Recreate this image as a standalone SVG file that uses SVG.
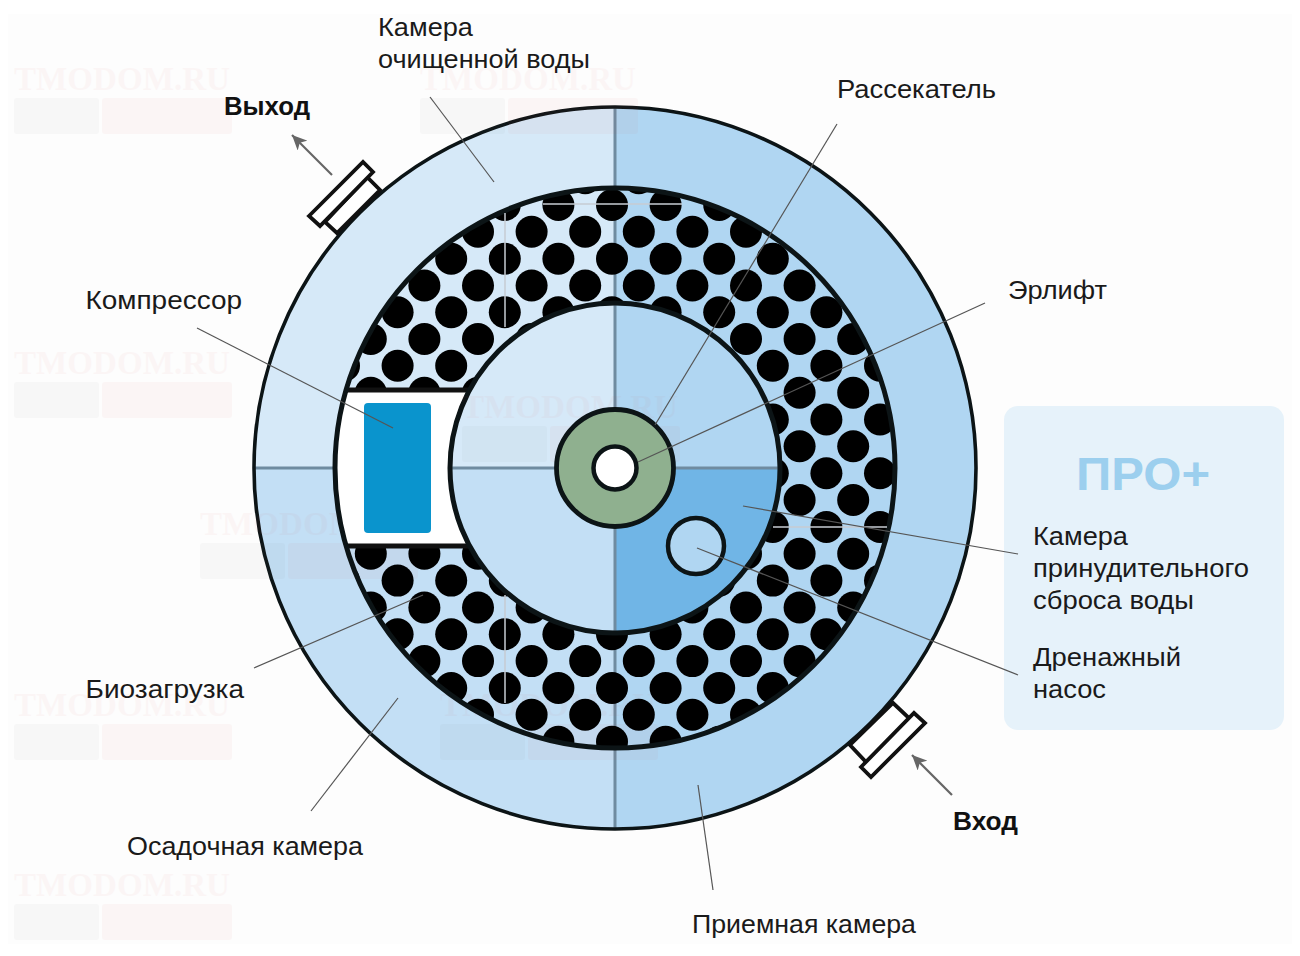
<svg xmlns="http://www.w3.org/2000/svg" xmlns:xlink="http://www.w3.org/1999/xlink" width="1300" height="956" viewBox="0 0 1300 956">
<style>
text{font-family:"Liberation Sans",Arial,sans-serif;font-size:26px;fill:#1a1a1a}
.b{font-weight:700;fill:#111}
.q{fill:none;stroke:#6f8ba0;stroke-width:3}
.k{stroke:#0c1416;fill:none}
.lead{stroke:#555;stroke-width:1.2;fill:none}
.arr{stroke:#666;stroke-width:2.2;fill:none;marker-end:url(#ah)}
.port{fill:#fff;stroke:#111;stroke-width:3.8;stroke-linejoin:miter}
.wm1{font-family:"Liberation Serif",serif;font-size:33px;font-weight:700;fill:#d9534f}
.streak{stroke:#c6ccd2;stroke-width:1.5}
</style>
<defs>
<marker id="ah" markerUnits="userSpaceOnUse" markerWidth="18" markerHeight="14" refX="15" refY="7" orient="auto"><path d="M0 0L15 7L0 14L4 7Z" fill="#666"/></marker>
<clipPath id="ring"><path clip-rule="evenodd" d="M335 468a280 280 0 1 0 560 0a280 280 0 1 0-560 0ZM450 468a165 165 0 1 0 330 0a165 165 0 1 0-330 0Z"/></clipPath>
<g id="ra"><circle cx="344" r="16"/><circle cx="397.6" r="16"/><circle cx="451.2" r="16"/><circle cx="504.8" r="16"/><circle cx="558.4" r="16"/><circle cx="612" r="16"/><circle cx="665.6" r="16"/><circle cx="719.2" r="16"/><circle cx="772.8" r="16"/><circle cx="826.4" r="16"/><circle cx="880" r="16"/></g>
<g id="rb"><circle cx="370.8" r="16"/><circle cx="424.4" r="16"/><circle cx="478" r="16"/><circle cx="531.6" r="16"/><circle cx="585.2" r="16"/><circle cx="638.8" r="16"/><circle cx="692.4" r="16"/><circle cx="746" r="16"/><circle cx="799.6" r="16"/><circle cx="853.2" r="16"/></g>
<g id="wm" opacity="0.04"><text class="wm1" x="0" y="28" textLength="216" lengthAdjust="spacingAndGlyphs">TMODOM.RU</text><rect x="0" y="36" width="85" height="36" rx="3" fill="#777"/><rect x="88" y="36" width="130" height="36" rx="3" fill="#d9534f"/></g>
</defs>
<rect width="1300" height="956" fill="#fff"/>
<rect x="8" y="14" width="1284" height="930" fill="#fdfdfd"/>
<g id="panel"><rect x="1004" y="406" width="280" height="324" rx="14" fill="#e6f2fa"/></g>
<g id="tank">
<path d="M615 468V107A361 361 0 0 0 254 468Z" fill="#d6e9f8"/>
<path d="M615 468V107A361 361 0 0 1 976 468A361 361 0 0 1 615 829Z" fill="#b0d6f2"/>
<path d="M615 468V829A361 361 0 0 1 254 468Z" fill="#c3dff5"/>
<path class="q" d="M615 107V829M254 468H335"/>
<circle cx="615" cy="468" r="361" class="k" stroke-width="3.6"/>
</g>
<g id="watermarks">
<use xlink:href="#wm" x="14" y="62"/><use xlink:href="#wm" x="420" y="62"/><use xlink:href="#wm" x="14" y="346"/><use xlink:href="#wm" x="200" y="507"/><use xlink:href="#wm" x="14" y="688"/><use xlink:href="#wm" x="440" y="688"/><use xlink:href="#wm" x="14" y="868"/>
</g>
<g id="inlet-port"><path class="port" d="M850 745L893 703L910 719L866 762Z"/><path class="port" d="M861 767L914 713L925 723L871 777Z"/></g>
<g id="outlet-port"><path class="port" d="M325 222L367 177L380 190L337 233Z"/><path class="port" d="M309 216L363 162L373 172L320 226Z"/></g>
<g id="biomedia" clip-path="url(#ring)" fill="#000">
<use xlink:href="#rb" y="178.2"/><use xlink:href="#ra" y="205"/><use xlink:href="#rb" y="231.8"/><use xlink:href="#ra" y="258.7"/><use xlink:href="#rb" y="285.5"/><use xlink:href="#ra" y="312.2"/><use xlink:href="#rb" y="339"/><use xlink:href="#ra" y="365.8"/><use xlink:href="#rb" y="392.7"/><use xlink:href="#ra" y="419.5"/><use xlink:href="#rb" y="446.3"/><use xlink:href="#ra" y="473.3"/><use xlink:href="#rb" y="500"/><use xlink:href="#ra" y="527"/><use xlink:href="#rb" y="553.8"/><use xlink:href="#ra" y="580.6"/><use xlink:href="#rb" y="607.5"/><use xlink:href="#ra" y="634.3"/><use xlink:href="#rb" y="661.1"/><use xlink:href="#ra" y="688"/><use xlink:href="#rb" y="714.8"/><use xlink:href="#ra" y="741.7"/>
</g>
<g id="compressor">
<path d="M346 390H470A165 165 0 0 0 470 546H346A280 280 0 0 1 346 390Z" fill="#fff"/>
<path d="M346 390H470M346 546H470" stroke="#111" stroke-width="5" fill="none"/>
<rect x="364" y="403" width="67" height="130" rx="4" fill="#0a94cd"/>
</g>
<circle id="ring-wall" cx="615" cy="468" r="280" class="k" stroke-width="5"/>
<g id="chamber">
<path d="M615 468V303A165 165 0 0 0 450 468Z" fill="#d6e9f8"/>
<path d="M615 468V303A165 165 0 0 1 780 468Z" fill="#b0d6f2"/>
<path d="M615 468V633A165 165 0 0 1 450 468Z" fill="#c3dff5"/>
<path d="M615 468H780A165 165 0 0 1 615 633Z" fill="#70b5e6"/>
<path class="q" d="M615 303V633M450 468H780"/>
<circle cx="615" cy="468" r="165" class="k" stroke-width="5"/>
<use xlink:href="#wm" x="462" y="390"/>
</g>
<g id="airlift">
<circle cx="615" cy="468" r="58.5" fill="#8fb08f" stroke="#0c1416" stroke-width="4.8"/>
<circle cx="615" cy="468" r="21.5" fill="#fff" stroke="#0c1416" stroke-width="4.5"/>
</g>
<g id="pump"><circle cx="696" cy="546" r="28" fill="#b0d6f2" stroke="#0c1416" stroke-width="4.5"/></g>
<g id="streaks">
<path class="streak" d="M505 213V327M505 595V703M543 204H682M773 527H887"/>
</g>
<g id="connectors">
<path class="lead" d="M430 97L494 182"/>
<path class="lead" d="M837 124L655 425"/>
<path class="lead" d="M985 303L638 462"/>
<path class="lead" d="M197 328L393 428"/>
<path class="lead" d="M1018 554L743 506"/>
<path class="lead" d="M1018 675L697 548"/>
<path class="lead" d="M254 668L423 595"/>
<path class="lead" d="M311 811L398 698"/>
<path class="lead" d="M713 890L698 785"/>
<path class="arr" d="M332 175L292 135"/>
<path class="arr" d="M952 795L912 755"/>
</g>
<g id="labels">
<text x="378" y="36" textLength="95" lengthAdjust="spacingAndGlyphs">Камера</text>
<text x="378" y="68" textLength="212" lengthAdjust="spacingAndGlyphs">очищенной воды</text>
<text x="837" y="98" textLength="159" lengthAdjust="spacingAndGlyphs">Рассекатель</text>
<text x="1008" y="299" textLength="99" lengthAdjust="spacingAndGlyphs">Эрлифт</text>
<text x="85.5" y="309" textLength="156.5" lengthAdjust="spacingAndGlyphs">Компрессор</text>
<text x="85.5" y="698" textLength="158.5" lengthAdjust="spacingAndGlyphs">Биозагрузка</text>
<text x="127" y="855" textLength="236" lengthAdjust="spacingAndGlyphs">Осадочная камера</text>
<text x="692" y="933" textLength="224" lengthAdjust="spacingAndGlyphs">Приемная камера</text>
<text class="b" x="224" y="115" textLength="86" lengthAdjust="spacingAndGlyphs">Выход</text>
<text class="b" x="953" y="830" textLength="65" lengthAdjust="spacingAndGlyphs">Вход</text>
<text x="1076" y="490" textLength="134" lengthAdjust="spacingAndGlyphs" style="font-size:46px;font-weight:700;fill:#9ccfee">ПРО+</text>
<text x="1033" y="545" textLength="95" lengthAdjust="spacingAndGlyphs">Камера</text>
<text x="1033" y="577" textLength="216" lengthAdjust="spacingAndGlyphs">принудительного</text>
<text x="1033" y="609" textLength="161" lengthAdjust="spacingAndGlyphs">сброса воды</text>
<text x="1033" y="666" textLength="148" lengthAdjust="spacingAndGlyphs">Дренажный</text>
<text x="1033" y="698" textLength="73" lengthAdjust="spacingAndGlyphs">насос</text>
</g>
</svg>
